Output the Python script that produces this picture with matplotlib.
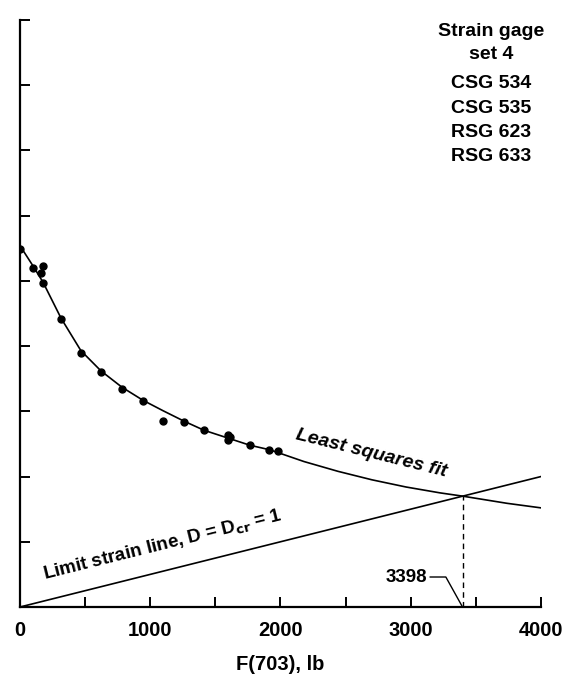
import matplotlib
matplotlib.use('Agg')
import matplotlib.pyplot as plt

plt.rcParams['font.family'] = ['Liberation Sans', 'DejaVu Sans']
plt.rcParams['font.weight'] = 'bold'
plt.rcParams['axes.labelweight'] = 'bold'

# measured points, strain gage set 4
force = [0, 100, 177, 161, 177, 315, 468, 622, 783, 944, 1098, 1259,
         1413, 1597, 1597, 1612, 1766, 1912, 1981]
strain = [5.49, 5.20, 5.23, 5.12, 4.97, 4.42, 3.90, 3.60, 3.34, 3.16, 2.85,
          2.84, 2.71, 2.64, 2.56, 2.61, 2.48, 2.41, 2.39]

# least squares fit curve
fit_x = [0, 100, 177, 315, 468, 622, 783, 944, 1098, 1259, 1413, 1597,
         1766, 1919, 2181, 2442, 2703, 2964, 3225, 3398, 3739, 4000]
fit_y = [5.54, 5.23, 4.98, 4.43, 3.93, 3.62, 3.37, 3.17, 3.01, 2.85, 2.71,
         2.59, 2.48, 2.41, 2.23, 2.08, 1.95, 1.84, 1.75, 1.70, 1.59, 1.52]

# limit strain line D = Dcr = 1
limit_x = [0, 4000]
limit_y = [0, 2.0]

cross_x = 3398
cross_y = 1.70

gages = ['Strain gage', 'set 4', 'CSG 534', 'CSG 535', 'RSG 623', 'RSG 633']
x_ticks = [0, 500, 1000, 1500, 2000, 2500, 3000, 3500, 4000]
x_labels = ['0', '', '1000', '', '2000', '', '3000', '', '4000']


def main():
    fig = plt.figure(figsize=(5.7, 6.89), dpi=100)
    ax = fig.add_axes([0.035, 0.119, 0.914, 0.852])

    ax.plot(fit_x, fit_y, color='black', linewidth=1.2)
    ax.plot(limit_x, limit_y, color='black', linewidth=1.2)
    ax.plot(force, strain, 'o', color='black', markersize=5)

    # intersection marker
    ax.plot([cross_x, cross_x], [0, cross_y], color='black', linewidth=1.0,
            linestyle=(0, (4, 3)))
    ax.plot([3150, 3270, cross_x], [0.46, 0.46, 0], color='black', linewidth=1.0)
    ax.text(3130, 0.46, str(cross_x), ha='right', va='center', fontsize=13.5)

    ax.text(2700, 2.36, 'Least squares fit', rotation=-14, ha='center', va='center',
            fontsize=14, style='italic')
    ax.text(1100, 0.95, 'Limit strain line, D = D$_{\\mathbf{cr}}$ = 1', rotation=14,
            ha='center', va='center', fontsize=13.5)

    ys = [8.82, 8.47, 8.02, 7.65, 7.27, 6.90]
    for s, yy in zip(gages, ys):
        ax.text(3615, yy, s, ha='center', va='center', fontsize=14)

    ax.set_xlim(0, 4000)
    ax.set_ylim(0, 9)
    ax.set_xticks(x_ticks)
    ax.set_xticklabels(x_labels, fontsize=14.5)
    ax.set_yticks(range(0, 10))
    ax.set_yticklabels([])
    ax.tick_params(direction='in', length=7, width=1.4)
    ax.tick_params(axis='x', pad=10)

    ax.spines['top'].set_visible(False)
    ax.spines['right'].set_visible(False)
    ax.spines['left'].set_linewidth(1.6)
    ax.spines['bottom'].set_linewidth(1.6)

    ax.set_xlabel('F(703), lb', fontsize=14.5, labelpad=11)

    plt.savefig('out.png', dpi=100)


if __name__ == '__main__':
    main()
